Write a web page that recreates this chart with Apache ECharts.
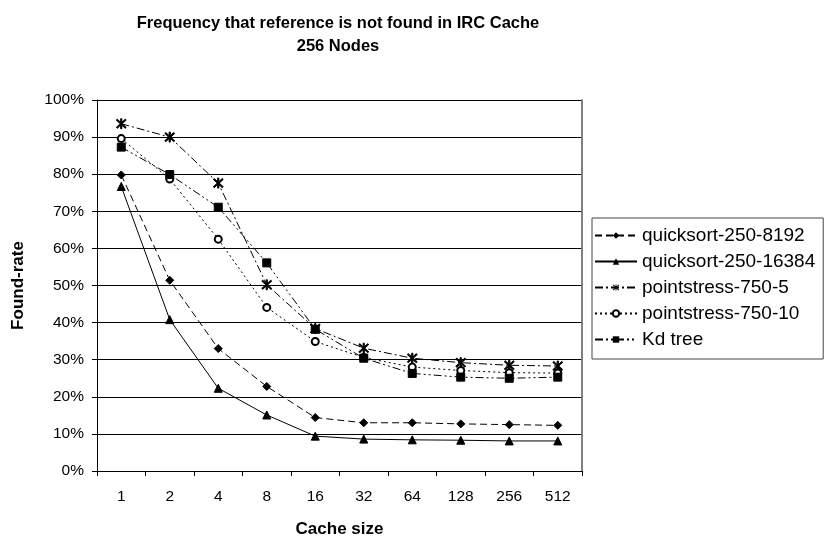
<!DOCTYPE html>
<html>
<head>
<meta charset="utf-8">
<script src="https://cdn.jsdelivr.net/npm/echarts@6/dist/echarts.min.js"></script>
<style>
  html, body { margin: 0; padding: 0; background: #fff; }
  #chart { width: 826px; height: 545px; }
</style>
</head>
<body>
<div id="chart"></div>
<script>
// cache sizes on the x axis
const cacheSizes = ['1', '2', '4', '8', '16', '32', '64', '128', '256', '512'];
const yTicks = [0, 10, 20, 30, 40, 50, 60, 70, 80, 90, 100];

// found-rate in percent
const quicksort8192 = [79.8, 51.4, 33.0, 22.8, 14.4, 13.0, 13.0, 12.7, 12.5, 12.3];
const quicksort16384 = [76.7, 40.8, 22.3, 15.1, 9.4, 8.6, 8.4, 8.3, 8.1, 8.1];
const pointstress5 = [93.6, 90.0, 77.6, 50.2, 38.4, 33.1, 30.4, 29.2, 28.5, 28.3];
const pointstress10 = [89.6, 78.7, 62.5, 44.1, 34.9, 30.6, 28.0, 27.1, 26.5, 26.4];
const kdTree = [87.3, 79.9, 71.1, 56.1, 38.2, 30.4, 26.3, 25.3, 25.0, 25.3];

// asterisk marker (X with a vertical bar)
const starPath = 'path://M-5,-4L-4,-5L5,4L4,5Z M4,-5L5,-4L-4,5L-5,4Z M-0.6,-5.5L0.6,-5.5L0.6,5.5L-0.6,5.5Z';

const font = '"Liberation Sans", Arial, Helvetica, sans-serif';

function line(name, data, symbol, size, dash) {
  return {
    name: name,
    type: 'line',
    data: data,
    symbol: symbol,
    symbolSize: size,
    showAllSymbol: true,
    lineStyle: { color: '#000', width: 1, type: dash },
    itemStyle: { color: '#000', borderColor: '#000' },
    emphasis: { disabled: true },
    animation: false
  };
}

const chart = echarts.init(document.getElementById('chart'), null, { renderer: 'canvas' });
chart.setOption({
  backgroundColor: '#fff',
  animation: false,
  textStyle: { fontFamily: font },
  grid: { left: 97, right: 244, top: 100, bottom: 74, containLabel: false },
  graphic: [
    {
      type: 'text', x: 338, y: 12,
      style: {
        text: 'Frequency that reference is not found in IRC Cache\n256 Nodes',
        align: 'center', verticalAlign: 'top',
        font: 'bold 16.5px ' + font, fill: '#000', lineHeight: 23
      }
    }
  ],
  legend: {
    orient: 'vertical',
    left: 592, top: 218,
    width: 240,
    padding: [8, 8, 10, 2],
    itemGap: 7,
    itemWidth: 42, itemHeight: 8,
    borderColor: '#444', borderWidth: 1,
    textStyle: { fontSize: 19, color: '#000', fontFamily: font },
    data: ['quicksort-250-8192', 'quicksort-250-16384', 'pointstress-750-5', 'pointstress-750-10', 'Kd tree']
  },
  xAxis: {
    type: 'category',
    data: cacheSizes,
    boundaryGap: true,
    name: 'Cache size',
    nameLocation: 'middle',
    nameGap: 50,
    nameTextStyle: { fontSize: 17, fontWeight: 'bold', color: '#000' },
    axisLine: { lineStyle: { color: '#000', width: 1 } },
    axisTick: { show: true, length: 5, inside: false, lineStyle: { color: '#000' } },
    axisLabel: { fontSize: 15.5, color: '#000', margin: 18 },
    splitLine: { show: false }
  },
  yAxis: [
    {
      type: 'value',
      min: 0, max: 100, interval: 10,
      name: 'Found-rate',
      nameLocation: 'middle',
      nameRotate: 90,
      nameGap: 70,
      nameTextStyle: { fontSize: 17, fontWeight: 'bold', color: '#000' },
      axisLine: { show: true, lineStyle: { color: '#000', width: 1 } },
      axisTick: { show: true, length: 5, lineStyle: { color: '#000' } },
      axisLabel: { fontSize: 15.5, color: '#000', margin: 13, formatter: v => yTicks.indexOf(v) >= 0 ? v + '%' : '' },
      splitLine: { show: true, lineStyle: { color: '#000', width: 1 } }
    },
    {
      type: 'value',
      min: 0, max: 100, interval: 10,
      position: 'right',
      axisLine: { show: true, lineStyle: { color: '#808080', width: 2 } },
      axisTick: { show: false },
      axisLabel: { show: false },
      splitLine: { show: false }
    }
  ],
  series: [
    line('quicksort-250-8192', quicksort8192, 'diamond', 8, [7, 4]),
    line('quicksort-250-16384', quicksort16384, 'triangle', 8, 'solid'),
    line('pointstress-750-5', pointstress5, starPath, 10, [8, 3, 2, 3]),
    line('pointstress-750-10', pointstress10, 'emptyCircle', 7, [2, 3]),
    line('Kd tree', kdTree, 'rect', 8, [8, 3, 2, 3, 2, 3])
  ]
});
</script>
</body>
</html>
